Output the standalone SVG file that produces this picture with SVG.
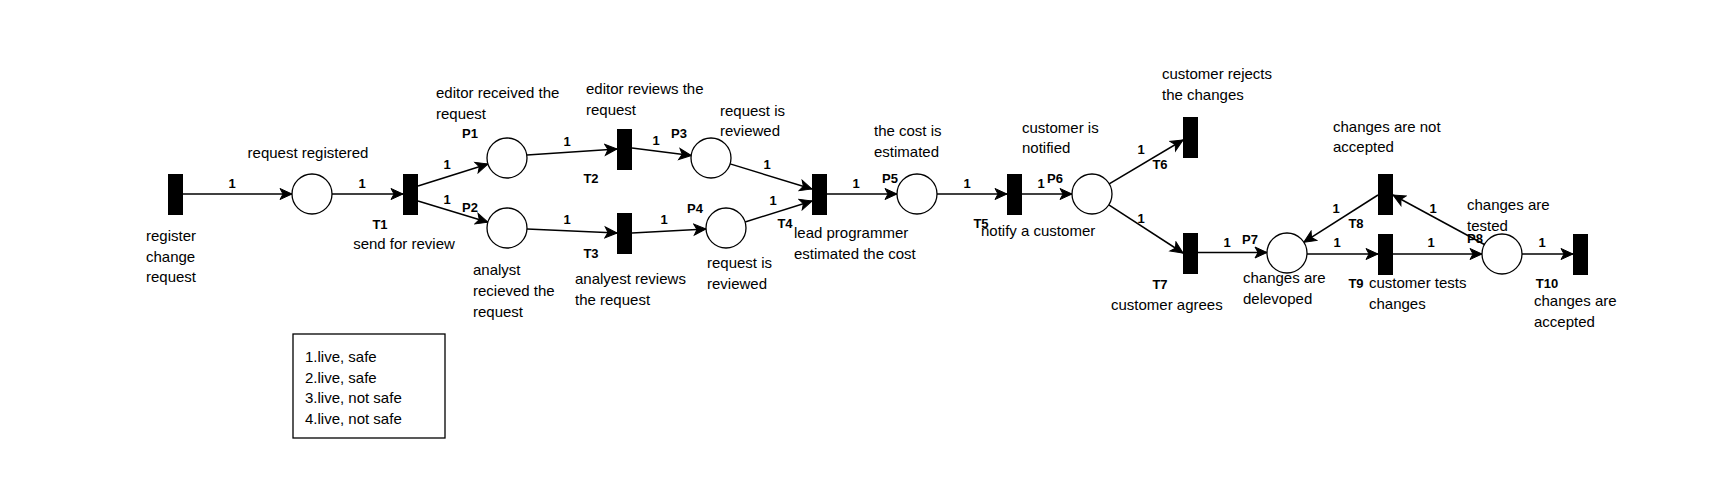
<svg xmlns="http://www.w3.org/2000/svg" width="1727" height="491" viewBox="0 0 1727 491">
<style>
.tr{fill:#000;stroke:none}
.pl{fill:#fff;stroke:#000;stroke-width:1.3}
.arc{fill:none;stroke:#000;stroke-width:1.5;marker-end:url(#ah)}
text{font-family:"Liberation Sans",Arial,sans-serif;fill:#000}
.t{font-size:15px}
.b{font-size:13px;font-weight:bold}
.w{font-size:13px;font-weight:bold;text-anchor:middle}
.c{text-anchor:middle}
</style>
<defs>
<marker id="ah" markerUnits="userSpaceOnUse" markerWidth="14" markerHeight="14" viewBox="-13 -7 14 14" refX="0" refY="0" orient="auto">
<path d="M0,0 L-12,-5.5 L-9,0 L-12,5.5 Z" fill="#000" stroke="#000" stroke-width="1"/>
</marker>
</defs>
<rect width="1727" height="491" fill="#fff"/>
<g id="connectors">
<path class="arc" d="M183,194 L292,194"/>
<path class="arc" d="M332,194 L403,194"/>
<path class="arc" d="M418,186 L487.9,164"/>
<path class="arc" d="M418,201 L487.9,222.2"/>
<path class="arc" d="M527,155 L617,149"/>
<path class="arc" d="M632,148 L691.2,155.5"/>
<path class="arc" d="M527,229 L617,233"/>
<path class="arc" d="M632,233 L706,229"/>
<path class="arc" d="M730.1,163.9 L812,189"/>
<path class="arc" d="M745.1,222 L812,201"/>
<path class="arc" d="M827,194 L897,194"/>
<path class="arc" d="M937,194 L1007,194"/>
<path class="arc" d="M1022,194 L1072,194"/>
<path class="arc" d="M1109.2,183.8 L1183,140"/>
<path class="arc" d="M1108.8,204.9 L1183,253"/>
<path class="arc" d="M1198,252.5 L1267,252.5"/>
<path class="arc" d="M1307,254 L1378,254"/>
<path class="arc" d="M1378,195 L1303.9,242.2"/>
<path class="arc" d="M1484.4,244.5 L1393,195"/>
<path class="arc" d="M1393,254 L1482,254"/>
<path class="arc" d="M1522,254 L1573,254"/>
<g class="b">
<text class="w" x="232" y="188">1</text>
<text class="w" x="362" y="188">1</text>
<text class="w" x="447" y="169">1</text>
<text class="w" x="447" y="204">1</text>
<text class="w" x="567" y="146">1</text>
<text class="w" x="656" y="145">1</text>
<text class="w" x="567" y="224">1</text>
<text class="w" x="664" y="224">1</text>
<text class="w" x="767" y="169">1</text>
<text class="w" x="773" y="205">1</text>
<text class="w" x="856" y="188">1</text>
<text class="w" x="967" y="188">1</text>
<text class="w" x="1041" y="188">1</text>
<text class="w" x="1141" y="154">1</text>
<text class="w" x="1141" y="223">1</text>
<text class="w" x="1227" y="247">1</text>
<text class="w" x="1336" y="213">1</text>
<text class="w" x="1337" y="247">1</text>
<text class="w" x="1433" y="213">1</text>
<text class="w" x="1431" y="247">1</text>
<text class="w" x="1542" y="247">1</text>
</g>
</g>
<g id="T0"><rect class="tr" x="168" y="174" width="15" height="41"/>
<text class="t" x="146" y="241">register</text><text class="t" x="146" y="262">change</text><text class="t" x="146" y="282">request</text></g>
<g id="P0"><circle class="pl" cx="312" cy="194" r="20"/>
<text class="t c" x="308" y="158">request registered</text></g>
<g id="T1"><rect class="tr" x="403" y="174" width="15" height="41"/>
<text class="w" x="380" y="229">T1</text><text class="t c" x="404" y="249">send for review</text></g>
<g id="P1"><circle class="pl" cx="507" cy="158" r="20"/>
<text class="w" x="470" y="138">P1</text>
<text class="t" x="436" y="98">editor received the</text><text class="t" x="436" y="119">request</text></g>
<g id="P2"><circle class="pl" cx="507" cy="228" r="20"/>
<text class="w" x="470" y="212">P2</text>
<text class="t" x="473" y="275">analyst</text><text class="t" x="473" y="296">recieved the</text><text class="t" x="473" y="317">request</text></g>
<g id="T2"><rect class="tr" x="617" y="129" width="15" height="41"/>
<text class="w" x="591" y="183">T2</text>
<text class="t" x="586" y="94">editor reviews the</text><text class="t" x="586" y="115">request</text></g>
<g id="T3"><rect class="tr" x="617" y="213" width="15" height="41"/>
<text class="w" x="591" y="258">T3</text>
<text class="t" x="575" y="284">analyest reviews</text><text class="t" x="575" y="305">the request</text></g>
<g id="P3"><circle class="pl" cx="711" cy="158" r="20"/>
<text class="w" x="679" y="138">P3</text>
<text class="t" x="720" y="116">request is</text><text class="t" x="720" y="136">reviewed</text></g>
<g id="P4"><circle class="pl" cx="726" cy="228" r="20"/>
<text class="w" x="695" y="213">P4</text>
<text class="t" x="707" y="268">request is</text><text class="t" x="707" y="289">reviewed</text></g>
<g id="T4"><rect class="tr" x="812" y="174" width="15" height="41"/>
<text class="w" x="785" y="228">T4</text>
<text class="t" x="794" y="238">lead programmer</text><text class="t" x="794" y="259">estimated the cost</text></g>
<g id="P5"><circle class="pl" cx="917" cy="194" r="20"/>
<text class="w" x="890" y="183">P5</text>
<text class="t" x="874" y="136">the cost is</text><text class="t" x="874" y="157">estimated</text></g>
<g id="T5"><rect class="tr" x="1007" y="174" width="15" height="41"/>
<text class="w" x="981" y="228">T5</text>
<text class="t" x="981" y="236">notify a customer</text></g>
<g id="P6"><circle class="pl" cx="1092" cy="194" r="20"/>
<text class="w" x="1055" y="183">P6</text>
<text class="t" x="1022" y="133">customer is</text><text class="t" x="1022" y="153">notified</text></g>
<g id="T6"><rect class="tr" x="1183" y="117" width="15" height="41"/>
<text class="w" x="1160" y="169">T6</text>
<text class="t" x="1162" y="79">customer rejects</text><text class="t" x="1162" y="100">the changes</text></g>
<g id="T7"><rect class="tr" x="1183" y="233" width="15" height="41"/>
<text class="w" x="1160" y="289">T7</text>
<text class="t" x="1111" y="310">customer agrees</text></g>
<g id="P7"><circle class="pl" cx="1287" cy="253" r="20"/>
<text class="w" x="1250" y="244">P7</text>
<text class="t" x="1243" y="283">changes are</text><text class="t" x="1243" y="304">delevoped</text></g>
<g id="T8"><rect class="tr" x="1378" y="174" width="15" height="41"/>
<text class="w" x="1356" y="228">T8</text>
<text class="t" x="1333" y="132">changes are not</text><text class="t" x="1333" y="152">accepted</text></g>
<g id="T9"><rect class="tr" x="1378" y="234" width="15" height="41"/>
<text class="w" x="1356" y="288">T9</text>
<text class="t" x="1369" y="288">customer tests</text><text class="t" x="1369" y="309">changes</text></g>
<g id="P8"><circle class="pl" cx="1502" cy="254" r="20"/>
<text class="t" x="1467" y="210">changes are</text><text class="t" x="1467" y="231">tested</text>
<text class="w" x="1475" y="243">P8</text></g>
<g id="T10"><rect class="tr" x="1573" y="234" width="15" height="41"/>
<text class="w" x="1547" y="288">T10</text>
<text class="t" x="1534" y="306">changes are</text><text class="t" x="1534" y="327">accepted</text></g>
<g id="legend"><rect x="293" y="334" width="152" height="104" fill="#fff" stroke="#000" stroke-width="1.3"/>
<text class="t" x="305" y="362">1.live, safe</text>
<text class="t" x="305" y="383">2.live, safe</text>
<text class="t" x="305" y="403">3.live, not safe</text>
<text class="t" x="305" y="424">4.live, not safe</text></g>
</svg>
